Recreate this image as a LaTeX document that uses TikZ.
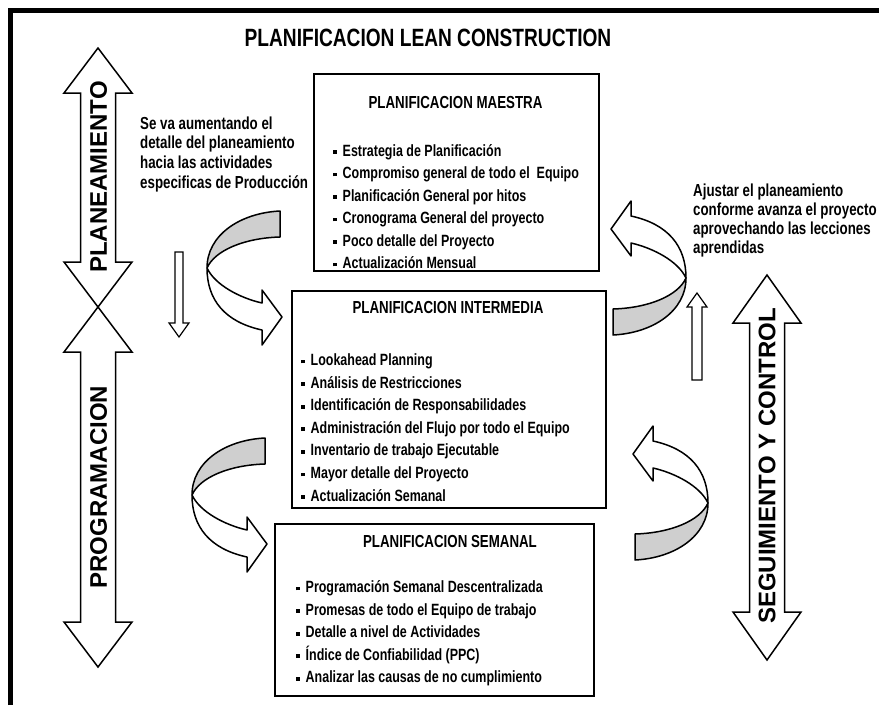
\documentclass[tikz,border=0pt]{standalone}
\usepackage{fontspec}
\setmainfont{Liberation Sans}
% condensed bold face for the body text, plain bold for the axis labels
\newfontfamily\narrowfam{Liberation Sans}[FakeStretch=0.765]
\newfontfamily\widefam{Liberation Sans}

\definecolor{ribbongray}{HTML}{CFCFCF}

% small square bullet in front of each list line
\newcommand\sqbul{\rule[2.2pt]{3.8pt}{3.8pt}\hspace{5.5pt}}

% vertical double-headed block arrow: centre x, top tip, bottom tip, head length
\newcommand\blockdouble[4]{%
  \draw[blockarrow] (#1,#2) -- ({#1+34},{#2+#4}) -- ({#1+17.5},{#2+#4})
    -- ({#1+17.5},{#3-#4}) -- ({#1+34},{#3-#4}) -- (#1,#3)
    -- ({#1-34},{#3-#4}) -- ({#1-17.5},{#3-#4}) -- ({#1-17.5},{#2+#4})
    -- ({#1-34},{#2+#4}) -- cycle;}

\begin{document}
\begin{tikzpicture}[x=1pt,y=-1pt,
  frame/.style={line width=5pt, line join=miter},
  panel/.style={draw, line width=1.8pt, rectangle, inner sep=0pt, anchor=north west},
  heading/.style={font=\narrowfam\bfseries\fontsize{17.4}{20}\selectfont, inner sep=0pt},
  item/.style={font=\narrowfam\bfseries\fontsize{16.3}{19}\selectfont, inner sep=0pt, anchor=base west},
  note/.style={font=\narrowfam\bfseries\fontsize{17.4}{20}\selectfont, inner sep=0pt, anchor=base west},
  axislabel/.style={font=\widefam\bfseries\fontsize{24}{26}\selectfont, inner sep=0pt, rotate=90},
  blockarrow/.style={draw, fill=white, line width=1.5pt, line join=miter},
  thinarrow/.style={draw, fill=white, line width=1.2pt, line join=miter},
  ribbonline/.style={draw, line width=1.5pt, line join=round},
  ribbon/.pic={
    % shaded back face of the twisted band
    \filldraw[ribbonline, fill=ribbongray] (73,-57) .. controls (33,-55) and (0,-33) .. (0,0)
      .. controls (8,-18) and (38,-30) .. (73,-31) -- cycle;
    % white front face ending in the arrow head
    \filldraw[ribbonline, fill=white] (0,0) .. controls (8,17) and (33,30) .. (55,35)
      -- (55,22) -- (75,49) -- (55,77) -- (55,62)
      .. controls (18,54) and (0,32) .. (0,0) -- cycle;
  }
]
\useasboundingbox (0,0) rectangle (879,705);

% page frame (top and left rules)
\draw[frame] (10.5,705) -- (10.5,10.5) -- (879,10.5);

% title
\node[font=\narrowfam\bfseries\fontsize{25}{28}\selectfont, inner sep=0pt] (title) at (428,38)
  {PLANIFICACION LEAN CONSTRUCTION};

% axis arrows
\blockdouble{98}{48}{307}{45}
\blockdouble{98}{307}{667}{45}
\blockdouble{767}{275}{660}{48}
\node[axislabel] (plan) at (98.5,177) {PLANEAMIENTO};
\node[axislabel] (prog) at (98.5,487) {PROGRAMACION};
\node[axislabel] (segu) at (767,466) {SEGUIMIENTO Y CONTROL};

% thin direction arrows
\draw[thinarrow] (175,252) -- (183,252) -- (183,323) -- (189,323) -- (179,337)
  -- (169,323) -- (175,323) -- cycle;
\draw[thinarrow] (692,380) -- (702,380) -- (702,307) -- (707,307) -- (697,293)
  -- (687,307) -- (692,307) -- cycle;

% side notes
\foreach \t [count=\i] in {Se va aumentando el, detalle del planeamiento,
    hacia las actividades, especificas de Producción}
  \node[note] (down-\i) at (140,{129+(\i-1)*19.7}) {\t};
\foreach \t [count=\i] in {Ajustar el planeamiento, conforme avanza el proyecto,
    aprovechando las lecciones, aprendidas}
  \node[note] (up-\i) at (693,{196+(\i-1)*19.3}) {\t};

% twisted ribbon arrows between the levels
\pic at (207,268) {ribbon};
\pic at (192,495) {ribbon};
\pic[rotate=180] at (686,278) {ribbon};
\pic[rotate=180] at (708,503) {ribbon};

% master planning
\node[panel, minimum width=285pt, minimum height=197pt] (maestra) at (313,73) {};
\node[heading] (maestra-h) at (455.5,103) {PLANIFICACION MAESTRA};
\foreach \t [count=\i] in {Estrategia de Planificación,
    Compromiso general de todo el\ \ Equipo, Planificación General por hitos,
    Cronograma General del proyecto, Poco detalle del Proyecto, Actualización Mensual}
  \node[item] (maestra-\i) at (333.2,{156+(\i-1)*22.5}) {\sqbul\t};

% intermediate planning
\node[panel, minimum width=314pt, minimum height=217pt] (inter) at (291,290) {};
\node[heading] (inter-h) at (448,308) {PLANIFICACION INTERMEDIA};
\foreach \t [count=\i] in {Lookahead Planning, Análisis de Restricciones,
    Identificación de Responsabilidades, Administración del Flujo por todo el Equipo,
    Inventario de trabajo Ejecutable, Mayor detalle del Proyecto, Actualización Semanal}
  \node[item] (inter-\i) at (301.2,{365.5+(\i-1)*22.6}) {\sqbul\t};

% weekly planning
\node[panel, minimum width=319pt, minimum height=172pt] (semanal) at (274,523) {};
\node[heading] (semanal-h) at (450,542) {PLANIFICACION SEMANAL};
\foreach \t [count=\i] in {Programación Semanal Descentralizada,
    Promesas de todo el Equipo de trabajo, Detalle a nivel de Actividades,
    Índice de Confiabilidad (PPC), Analizar las causas de no cumplimiento}
  \node[item] (semanal-\i) at (296.2,{592.5+(\i-1)*22.6}) {\sqbul\t};

\end{tikzpicture}
\end{document}
